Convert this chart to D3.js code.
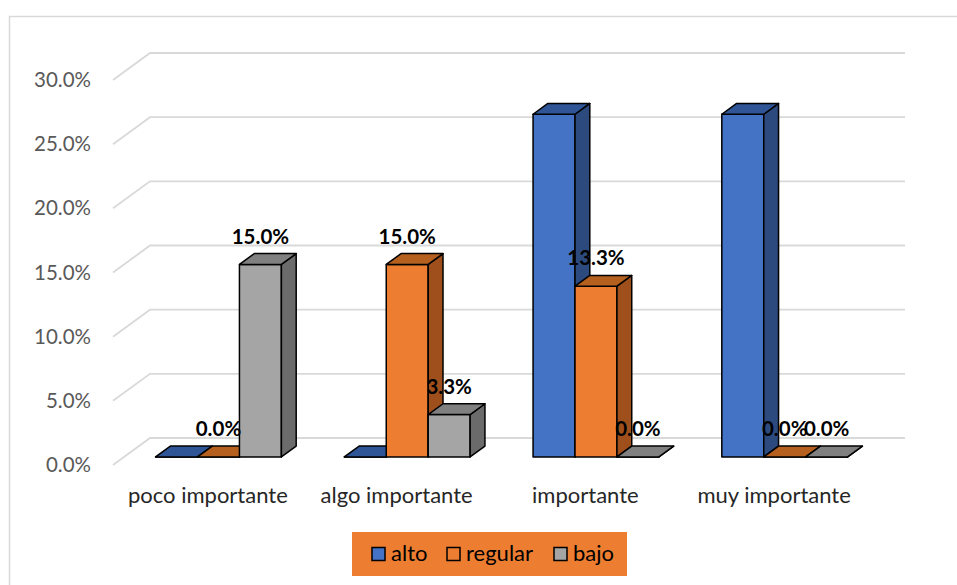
<!DOCTYPE html>
<html>
<head>
<meta charset="utf-8">
<script src="https://cdn.jsdelivr.net/npm/d3@7"></script>
<style>
  body { margin: 0; background: #fff; }
  svg text { font-family: Lato, "Open Sans", sans-serif; }
</style>
</head>
<body>
<div id="chart"></div>
<script>
  // data
  const categories = ["poco importante", "algo importante", "importante", "muy importante"];
  const seriesNames = ["alto", "regular", "bajo"];
  const alto = [0, 0, 0.267, 0.267];
  const regular = [0, 0.15, 0.133, 0];
  const bajo = [0.15, 0.033, 0, 0];
  const yTicks = [0, 0.05, 0.1, 0.15, 0.2, 0.25, 0.3];
  const showLabels = [false, true, true];

  const seriesValues = [alto, regular, bajo];
  const colors = {
    front: ["#4472C4", "#ED7D31", "#A5A5A5"],
    top: ["#2F5597", "#B5601F", "#808080"],
    side: ["#2C4A7E", "#9E4F1C", "#6B6B6B"],
  };

  const svgWidth = 957, svgHeight = 585;
  const DX = 37, DY = 27; // depth offset of the back wall
  const d0 = 0.3, d1 = 0.7; // depth of the bars
  const wallRight = 905;

  const svg = d3
    .select("#chart")
    .append("svg")
    .attr("width", svgWidth)
    .attr("height", svgHeight);

  // chart frame
  svg
    .append("rect")
    .attr("x", 9.5)
    .attr("y", 16.5)
    .attr("width", 1000)
    .attr("height", 1000)
    .attr("fill", "#fff")
    .attr("stroke", "#d9d9d9")
    .attr("stroke-width", 1.5);

  const x = d3
    .scaleBand()
    .domain(categories)
    .range([113, 868])
    .paddingInner(1 / 3)
    .paddingOuter(1 / 6);
  const xs = d3.scaleBand().domain(seriesNames).range([0, x.bandwidth()]);
  const y = d3.scaleLinear().domain([0, 0.3]).range([465, 80]);

  const proj = (px, v, d) => [px + d * DX, y(v) - d * DY];

  // gridlines on the back wall
  svg
    .append("g")
    .selectAll("path")
    .data(yTicks)
    .enter()
    .append("path")
    .attr("d", (t) => {
      const a = proj(113, t, 0), b = proj(113, t, 1);
      return `M${a}L${b}L${wallRight},${b[1]}`;
    })
    .attr("fill", "none")
    .attr("stroke", "#d9d9d9")
    .attr("stroke-width", 1.8);

  // y axis labels
  const yAxis = d3.axisLeft(y).tickValues(yTicks).tickFormat(d3.format(".1%")).tickSize(0).tickPadding(0);
  const yAxisG = svg.append("g").attr("transform", "translate(91,0)").call(yAxis);
  yAxisG.select(".domain").remove();
  yAxisG
    .selectAll("text")
    .attr("font-family", "Lato, sans-serif")
    .attr("font-size", 20.5)
    .attr("fill", "#595959");

  // bars
  const bars = [];
  categories.forEach((c, ci) => {
    seriesNames.forEach((s, si) => {
      const x0 = x(c) + xs(s);
      bars.push({ x0: x0, x1: x0 + xs.bandwidth(), v: seriesValues[si][ci], si: si });
    });
  });

  const poly = (pts) => "M" + pts.map((p) => proj(p[0], p[1], p[2])).join("L") + "Z";
  const barG = svg.append("g");
  bars.forEach((b) => {
    const g = barG.append("g");
    const faces = [
      { pts: [[b.x0, 0, d0], [b.x1, 0, d0], [b.x1, b.v, d0], [b.x0, b.v, d0]], fill: colors.front[b.si] },
      { pts: [[b.x1, 0, d0], [b.x1, 0, d1], [b.x1, b.v, d1], [b.x1, b.v, d0]], fill: colors.side[b.si] },
      { pts: [[b.x0, b.v, d0], [b.x1, b.v, d0], [b.x1, b.v, d1], [b.x0, b.v, d1]], fill: colors.top[b.si] },
    ];
    g.selectAll("path")
      .data(faces)
      .enter()
      .append("path")
      .attr("d", (f) => poly(f.pts))
      .attr("fill", (f) => f.fill)
      .attr("stroke", "#000")
      .attr("stroke-width", 1.5)
      .attr("stroke-linejoin", "round");
  });

  // data labels
  svg
    .append("g")
    .selectAll("text")
    .data(bars.filter((b) => showLabels[b.si]))
    .enter()
    .append("text")
    .attr("x", (b) => (b.x0 + b.x1) / 2 + d0 * DX)
    .attr("y", (b) => y(b.v) - d1 * DY - 10)
    .attr("text-anchor", "middle")
    .attr("font-size", 20.5)
    .attr("font-weight", "bold")
    .attr("fill", "#000")
    .text((b) => d3.format(".1%")(b.v));

  // category labels
  svg
    .append("g")
    .selectAll("text")
    .data(categories)
    .enter()
    .append("text")
    .attr("x", (c) => x(c) + x.bandwidth() / 2 + 0.5 * DX - 18)
    .attr("y", 503)
    .attr("text-anchor", "middle")
    .attr("font-size", 22)
    .attr("fill", "#262626")
    .text((c) => c);

  // legend
  const legend = svg.append("g");
  legend
    .append("rect")
    .attr("x", 352)
    .attr("y", 532)
    .attr("width", 275)
    .attr("height", 44)
    .attr("fill", "#ED7D31");
  const legendX = [372, 447, 554];
  seriesNames.forEach((s, i) => {
    legend
      .append("rect")
      .attr("x", legendX[i])
      .attr("y", 547.5)
      .attr("width", 13)
      .attr("height", 13)
      .attr("fill", colors.front[i])
      .attr("stroke", "#000")
      .attr("stroke-width", 1.5);
    legend
      .append("text")
      .attr("x", legendX[i] + 19)
      .attr("y", 561)
      .attr("font-size", 22)
      .attr("fill", "#000")
      .text(s);
  });
</script>
</body>
</html>
